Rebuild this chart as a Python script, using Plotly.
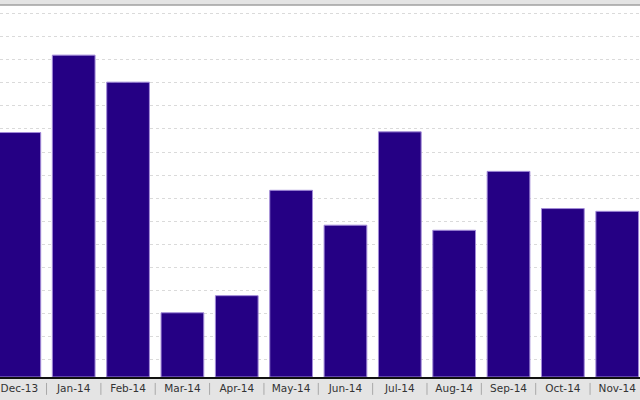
import plotly.graph_objects as go

# monthly values (no y labels in the source, read as grid units)
months = ["Dec-13", "Jan-14", "Feb-14", "Mar-14", "Apr-14", "May-14",
          "Jun-14", "Jul-14", "Aug-14", "Sep-14", "Oct-14", "Nov-14"]
values = [10.58, 13.93, 12.76, 2.78, 3.52, 8.08,
          6.57, 10.61, 6.35, 8.90, 7.29, 7.17]

BAR_COLOR = "#250084"
BAR_EDGE = "#a28ad8"
BAND_COLOR = "#e4e4e4"
GRID_COLOR = "#dadada"

fig = go.Figure()

fig.add_trace(
    go.Bar(
        x=months,
        y=values,
        marker=dict(color=BAR_COLOR, line=dict(color=BAR_EDGE, width=1)),
        hovertemplate="%{x}: %{y:.2f}<extra></extra>",
    )
)

# separators between the category labels
for i in range(len(months) - 1):
    fig.add_shape(
        type="line",
        xref="x",
        yref="paper",
        x0=i + 0.5,
        x1=i + 0.5,
        y0=-0.016,
        y1=-0.048,
        line=dict(color="#a8a8a8", width=1),
    )

# thin grey frame line at the top
fig.add_shape(
    type="line",
    xref="paper",
    yref="paper",
    x0=0,
    x1=1,
    y0=1,
    y1=1,
    line=dict(color="#a0a0a0", width=1.5),
)

fig.update_layout(
    width=640,
    height=400,
    margin=dict(l=0, r=0, t=5, b=23),
    paper_bgcolor=BAND_COLOR,
    plot_bgcolor="white",
    bargap=0.214,
    showlegend=False,
    font=dict(family="DejaVu Sans", size=10.5, color="#333333"),
    xaxis=dict(
        type="category",
        range=[-0.356, 11.419],
        showline=True,
        linecolor="#111111",
        linewidth=2,
        showgrid=False,
        zeroline=False,
        ticks="",
        ticklabelstandoff=0,
        fixedrange=True,
    ),
    yaxis=dict(
        range=[0, 16.1],
        tick0=0.736,
        dtick=1,
        showticklabels=False,
        showgrid=True,
        gridcolor=GRID_COLOR,
        griddash="3px,3px",
        gridwidth=1,
        zeroline=False,
        showline=False,
        fixedrange=True,
    ),
)

# drop the page margin so the 640x400 figure fills the window
fig.write_html(
    "out.html",
    config={"displayModeBar": False},
    post_script="document.body.style.margin='0';document.body.style.overflow='hidden';",
)
